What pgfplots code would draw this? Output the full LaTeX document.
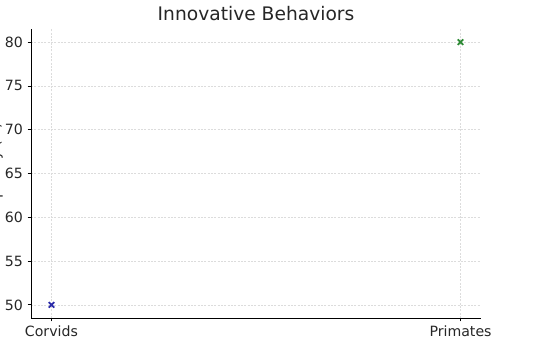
\documentclass[border=0pt]{standalone}
\usepackage{pgfplots}
\pgfplotsset{compat=1.18}
\usepackage{fontspec}
\setmainfont{DejaVu Sans}
\definecolor{txt}{HTML}{262626}
\definecolor{gridc}{HTML}{DCDCDC}
\definecolor{mblue}{HTML}{2B2BA8}
\definecolor{mgreen}{HTML}{2E8B35}
\begin{document}
\begin{tikzpicture}
\useasboundingbox (0,0) rectangle (405pt,259.5pt);
\begin{axis}[
  at={(23.25pt,21pt)}, anchor=south west,
  scale only axis, width=337.5pt, height=216.75pt,
  xmin=-0.05, xmax=1.05, ymin=48.5, ymax=81.5,
  xtick={0,1}, xticklabels={Corvids,Primates},
  ytick={50,55,...,80},
  axis x line*=bottom, axis y line*=left,
  axis line style={black, line width=0.6pt, -},
  tick style={black, line width=0.6pt},
  tick align=outside, major tick length=2.6pt,
  grid=major,
  major grid style={gridc, dash pattern=on 1.5pt off 1pt, line width=0.4pt},
  tick label style={font=\fontsize{10.6}{12}\selectfont, text=txt},
  /pgf/number format/assume math mode=true,
  title={Innovative Behaviors},
  title style={font=\fontsize{14}{16}\selectfont, text=txt, yshift=-3pt},
  ylabel={Frequency (\%)},
  ylabel style={font=\fontsize{10.6}{12}\selectfont, text=txt, at={(axis description cs:0,0.5)}, anchor=south, inner sep=0pt, yshift=21pt},
  clip=false,
]
\addplot[only marks, mark=x, mark size=2.9pt, line width=1.3pt, mblue] coordinates {(0,50)};
\addplot[only marks, mark=x, mark size=2.9pt, line width=1.3pt, mgreen] coordinates {(1,80)};
\end{axis}
\end{tikzpicture}
\end{document}
